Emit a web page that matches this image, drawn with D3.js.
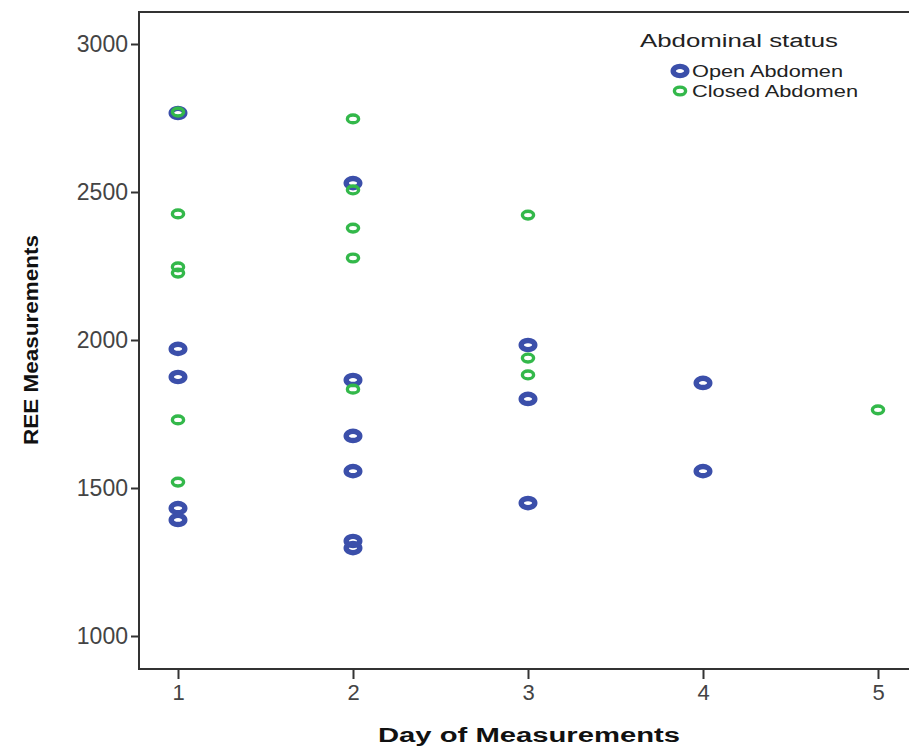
<!DOCTYPE html>
<html>
<head>
<meta charset="utf-8">
<script src="https://cdn.jsdelivr.net/npm/d3@7"></script>
<style>
  body { margin: 0; background: #fff; }
  text { font-family: "Liberation Sans", Arial, sans-serif; }
</style>
</head>
<body>
<svg width="909" height="748"></svg>
<script>
const openDays = [1, 1, 1, 1, 1, 2, 2, 2, 2, 2, 2, 3, 3, 3, 4, 4];
const openValues = [2767, 1970, 1875, 1432, 1392, 2530, 1865, 1676, 1557, 1321, 1297, 1983, 1801, 1449, 1855, 1557];

const closedDays = [1, 1, 1, 1, 1, 1, 2, 2, 2, 2, 2, 3, 3, 3, 5];
const closedValues = [2770, 2426, 2247, 2226, 1730, 1520, 2747, 2507, 2378, 2277, 1834, 2422, 1939, 1882, 1764];

const xTicks = [1, 2, 3, 4, 5];
const yTicks = [1000, 1500, 2000, 2500, 3000];
const groups = ['Open Abdomen', 'Closed Abdomen'];

const frame = {left: 139, top: 12, right: 909, bottom: 669};

const xScale = d3.scaleLinear()
    .domain([1, 5])
    .range([178, 878]);

const yScale = d3.scaleLinear()
    .domain([1000, 3000])
    .range([636, 44]);

const colorScale = d3.scaleOrdinal()
    .domain(groups)
    .range(['#3b4faa', '#33b84a']);

const svg = d3.select('svg');

// marker styles: open = heavy ring, closed = thin ring
const marker = {
    'Open Abdomen': {rx: 6.8, ry: 4.6, sw: 5.4},
    'Closed Abdomen': {rx: 5.6, ry: 3.9, sw: 3.4}
};

// frame lines
svg.append('path')
    .attr('d', `M${frame.right},${frame.top}H${frame.left}V${frame.bottom}H${frame.right}`)
    .attr('fill', 'none')
    .attr('stroke', '#333')
    .attr('stroke-width', 2);

// y axis
const yAxis = svg.append('g')
    .attr('transform', 'translate(' + frame.left + ',0)')
    .call(d3.axisLeft(yScale).tickValues(yTicks).tickSize(8).tickPadding(3).tickFormat(d => d));
yAxis.select('.domain').remove();
yAxis.selectAll('line').attr('stroke', '#333').attr('stroke-width', 2);
yAxis.selectAll('text')
    .attr('fill', '#444')
    .style('font-size', '23px')
    .style('font-family', '"Liberation Sans", Arial, sans-serif');

// x axis
const xAxis = svg.append('g')
    .attr('transform', 'translate(0,' + frame.bottom + ')')
    .call(d3.axisBottom(xScale).tickValues(xTicks).tickSize(10).tickPadding(5).tickFormat(d => d));
xAxis.select('.domain').remove();
xAxis.selectAll('line').attr('stroke', '#333').attr('stroke-width', 2);
xAxis.selectAll('text')
    .attr('fill', '#444')
    .style('font-size', '22px')
    .style('font-family', '"Liberation Sans", Arial, sans-serif');

// axis titles
svg.append('text')
    .attr('x', 529)
    .attr('y', 742)
    .attr('text-anchor', 'middle')
    .attr('font-weight', 'bold')
    .attr('font-size', 20)
    .attr('fill', '#111')
    .attr('textLength', 302)
    .attr('lengthAdjust', 'spacingAndGlyphs')
    .text('Day of Measurements');

svg.append('text')
    .attr('transform', 'translate(38,340) rotate(-90)')
    .attr('text-anchor', 'middle')
    .attr('font-weight', 'bold')
    .attr('font-size', 20)
    .attr('fill', '#111')
    .attr('textLength', 210)
    .attr('lengthAdjust', 'spacingAndGlyphs')
    .text('REE Measurements');

// points, open first so closed sits on top
const openData = openDays.map((d, i) => ({day: d, ree: openValues[i], group: 'Open Abdomen'}));
const closedData = closedDays.map((d, i) => ({day: d, ree: closedValues[i], group: 'Closed Abdomen'}));

svg.selectAll('.point')
    .data(openData.concat(closedData))
    .enter()
    .append('ellipse')
    .classed('point', true)
    .attr('cx', d => xScale(d.day))
    .attr('cy', d => yScale(d.ree))
    .attr('rx', d => marker[d.group].rx)
    .attr('ry', d => marker[d.group].ry)
    .attr('fill', 'none')
    .attr('stroke', d => colorScale(d.group))
    .attr('stroke-width', d => marker[d.group].sw);

// legend
const legend = svg.append('g');
legend.append('text')
    .attr('x', 640)
    .attr('y', 47)
    .attr('font-size', 18)
    .attr('fill', '#222')
    .attr('textLength', 198)
    .attr('lengthAdjust', 'spacingAndGlyphs')
    .text('Abdominal status');

const legendWidths = [151, 166];
groups.forEach((g, i) => {
    const y = 71 + i * 20;
    legend.append('ellipse')
        .attr('cx', 680)
        .attr('cy', y)
        .attr('rx', marker[g].rx)
        .attr('ry', marker[g].ry)
        .attr('fill', 'none')
        .attr('stroke', colorScale(g))
        .attr('stroke-width', marker[g].sw);
    legend.append('text')
        .attr('x', 692)
        .attr('y', y + 6)
        .attr('font-size', 16)
        .attr('fill', '#222')
        .attr('textLength', legendWidths[i])
        .attr('lengthAdjust', 'spacingAndGlyphs')
        .text(g);
});
</script>
</body>
</html>
